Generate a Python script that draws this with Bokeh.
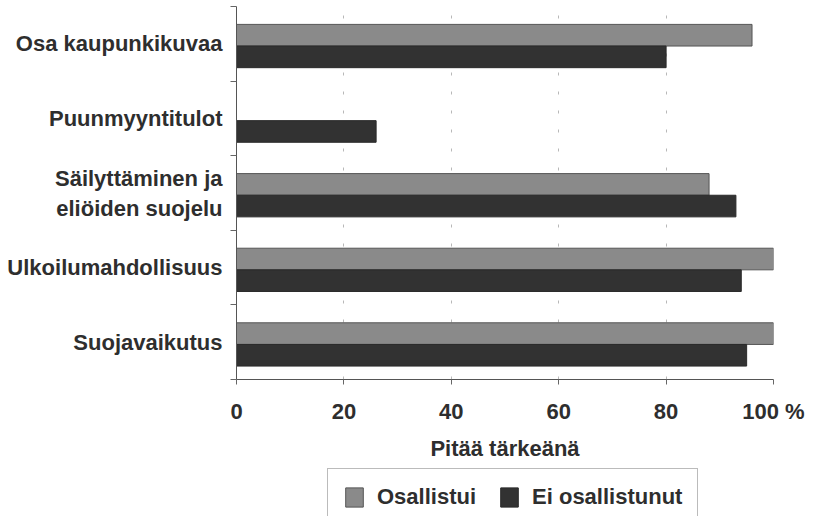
from bokeh.plotting import figure
from bokeh.layouts import column
from bokeh.models import (ColumnDataSource, Range1d, FixedTicker, Legend, LegendItem)
from bokeh.embed import file_html
from bokeh.resources import INLINE

categories = ["Osa kaupunkikuvaa", "Puunmyyntitulot", "Säilyttäminen ja\neliöiden suojelu",
              "Ulkoilumahdollisuus", "Suojavaikutus"]
osallistui = [96, 0, 88, 100, 100]
ei_osallistunut = [80, 26, 93, 94, 95]
x_ticks = [0, 20, 40, 60, 80, 100]
x_tick_labels = ["0", "20", "40", "60", "80", "100 %"]
series_names = ["Osallistui", "Ei osallistunut"]

n = len(categories)
centers = [n - 0.5 - i for i in range(n)]
bar_h = 0.29
off = 0.145
shift = -0.03

FONT = "Liberation Sans"
TXT = "#2e2e2e"
GRAY_FILL = "#8a8a8a"
DARK_FILL = "#323232"

p = figure(width=805, height=463, output_backend="svg", toolbar_location=None,
           x_range=Range1d(0, 100), y_range=Range1d(0, n),
           min_border_left=236, min_border_right=32, min_border_top=6, min_border_bottom=80)
p.outline_line_color = None

src1 = ColumnDataSource(dict(y=[c + off + shift for c in centers], right=osallistui))
src2 = ColumnDataSource(dict(y=[c - off + shift for c in centers], right=ei_osallistunut))

gray_style = dict(fill_color=GRAY_FILL, line_color="#555555", line_width=1)
dark_style = dict(fill_color=DARK_FILL, line_color="#2a2a2a", line_width=1)

p.hbar(y="y", left=0, right="right", height=bar_h, source=src1, **gray_style)
p.hbar(y="y", left=0, right="right", height=bar_h, source=src2, **dark_style)

# x axis
xa = p.xaxis[0]
xa.ticker = FixedTicker(ticks=x_ticks)
xa.major_label_overrides = {t: l for t, l in zip(x_ticks, x_tick_labels)}
xa.axis_label = "Pitää tärkeänä"
xa.axis_label_text_font = FONT
xa.axis_label_text_font_style = "bold"
xa.axis_label_text_font_size = "22px"
xa.axis_label_text_color = TXT
xa.axis_label_standoff = 9
xa.major_label_text_font = FONT
xa.major_label_text_font_style = "bold"
xa.major_label_text_font_size = "22px"
xa.major_label_text_color = TXT
xa.major_label_standoff = 14
xa.major_tick_in = 0
xa.major_tick_out = 5
xa.minor_tick_line_color = None
xa.axis_line_color = "#555555"
xa.major_tick_line_color = "#666666"

# y axis
ya = p.yaxis[0]
ya.ticker = FixedTicker(ticks=centers, minor_ticks=[float(i) for i in range(n + 1)])
ya.major_label_overrides = {c: l for c, l in zip(centers, categories)}
ya.major_label_text_font = FONT
ya.major_label_text_font_style = "bold"
ya.major_label_text_font_size = "22px"
ya.major_label_text_color = TXT
ya.major_label_text_line_height = 1.2
ya.major_label_standoff = 8
ya.major_tick_in = 0
ya.major_tick_out = 0
ya.major_tick_line_color = None
ya.minor_tick_in = 0
ya.minor_tick_out = 6
ya.minor_tick_line_color = "#666666"
ya.axis_line_color = "#555555"

p.ygrid.grid_line_color = None
p.xgrid.grid_line_color = "#9a9a9a"
p.xgrid.grid_line_dash = "3 16"
p.xgrid.grid_line_alpha = 0.7

# legend figure below (its frame is aligned with the main frame by the column layout);
# its y range is far from the data, so its renderers draw nothing but legend swatches
lf = figure(width=805, height=53, output_backend="svg", toolbar_location=None,
            x_range=Range1d(0, 1), y_range=Range1d(100, 101),
            min_border_left=236, min_border_right=32, min_border_top=0, min_border_bottom=0)
lf.axis.visible = False
lf.grid.grid_line_color = None
lf.outline_line_color = None
lr1 = lf.hbar(y="y", left=0, right="right", height=bar_h, source=src1, **gray_style)
lr2 = lf.hbar(y="y", left=0, right="right", height=bar_h, source=src2, **dark_style)

legend = Legend(items=[LegendItem(label=series_names[0], renderers=[lr1]),
                       LegendItem(label=series_names[1], renderers=[lr2])],
                orientation="horizontal", location=(91, -10))
legend.label_text_font = FONT
legend.label_text_font_style = "bold"
legend.label_text_font_size = "22px"
legend.label_text_color = TXT
legend.glyph_width = 22
legend.glyph_height = 24
legend.label_standoff = 12
legend.spacing = 22
legend.padding = 15
legend.margin = 0
legend.border_line_color = "#777777"
legend.border_line_width = 1
legend.background_fill_alpha = 0
lf.add_layout(legend)

layout = column(p, lf, spacing=0)
open("out.html", "w").write(file_html(layout, INLINE))
